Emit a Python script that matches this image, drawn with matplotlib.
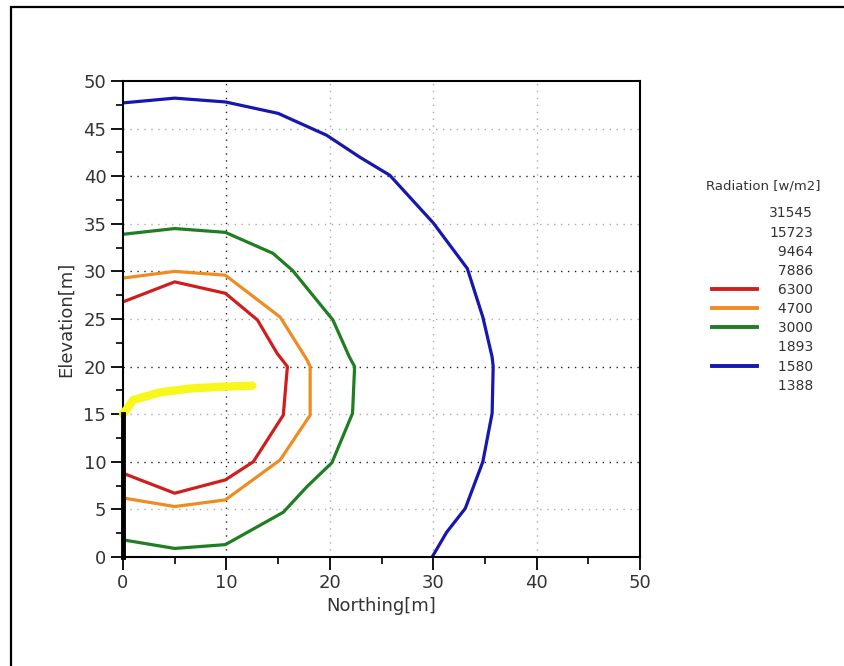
import matplotlib
matplotlib.use('Agg')
import matplotlib.pyplot as plt
from matplotlib.lines import Line2D
from matplotlib.patches import Rectangle

# contour lines (northing, elevation)
red_x = [0, 5, 9.9, 13.0, 14.9, 15.9, 15.5, 12.6, 9.9, 5, 0]
red_y = [26.8, 28.9, 27.7, 24.9, 21.4, 20, 14.9, 10.0, 8.1, 6.7, 8.8]

orange_x = [0, 5, 9.9, 15.2, 17.8, 18.1, 18.1, 15.2, 9.9, 5, 0]
orange_y = [29.3, 30.0, 29.6, 25.2, 20.7, 20, 14.9, 10.2, 6.0, 5.3, 6.2]

green_x = [0, 5, 9.9, 14.5, 16.4, 20.3, 21.9, 22.4, 22.2, 20.2, 17.8, 15.5, 9.9, 5, 0]
green_y = [33.9, 34.5, 34.1, 31.9, 30.1, 24.9, 21.0, 20, 15.1, 9.9, 7.4, 4.7, 1.3, 0.9, 1.8]

blue_x = [0, 5, 9.9, 15, 19.7, 22.9, 25.8, 30, 33.3, 34.8, 35.7, 35.8, 35.7, 34.8, 33.1, 31.3, 29.9]
blue_y = [47.7, 48.2, 47.8, 46.6, 44.3, 42.0, 40.1, 35.1, 30.3, 25.2, 21, 20, 15.1, 10, 5.1, 2.6, 0]

yellow_x = [0, 1, 3.6, 6.5, 9.9, 12.5]
yellow_y = [15, 16.5, 17.3, 17.7, 17.9, 18.0]

wall_x = [0, 0]
wall_y = [0, 15]

levels = ['31545', '15723', '9464', '7886', '6300', '4700', '3000', '1893', '1580', '1388']
level_colors = [None, None, None, None, '#d01e1e', '#ee8c22', '#1f7d22', None, '#1616b0', None]

fig = plt.figure(figsize=(8.45, 6.66), dpi=100)
ax = fig.add_axes([123/845, 1-557/666, (640-123)/845, (557-81)/666])

# grid
for gx in [10, 20, 30, 40]:
    ax.axvline(gx, color='#222222' if gx == 10 else '#aaaaaa', lw=1, ls=(0, (1, 4)), zorder=0)
for gy in range(5, 50, 5):
    ax.axhline(gy, color='#222222' if gy % 10 == 0 else '#aaaaaa', lw=1, ls=(0, (1, 4)), zorder=0)

ax.plot(blue_x, blue_y, color='#1616b0', lw=2.3)
ax.plot(green_x, green_y, color='#1f7d22', lw=2.3)
ax.plot(orange_x, orange_y, color='#ee8c22', lw=2.3)
ax.plot(red_x, red_y, color='#d01e1e', lw=2.3)
ax.plot(yellow_x, yellow_y, color='#f7f71c', lw=6, solid_capstyle='round', clip_on=False, zorder=4)
ax.plot(wall_x, wall_y, color='black', lw=3.5, clip_on=False, zorder=5)

ax.set_xlim(0, 50)
ax.set_ylim(0, 50)
ax.set_xticks(range(0, 51, 10))
ax.set_xticks(range(5, 50, 10), minor=True)
ax.set_yticks(range(0, 51, 5))
ax.set_yticks([v + 2.5 for v in range(0, 50, 5)], minor=True)
ax.tick_params(which='major', length=9, width=1.3, labelsize=13, labelcolor='#333333', pad=3)
ax.tick_params(which='minor', length=5, width=1.2)
for s in ax.spines.values():
    s.set_linewidth(1.5)

ax.set_xlabel('Northing[m]', fontsize=13, color='#333333', labelpad=4)
ax.set_ylabel('Elevation[m]', fontsize=13, color='#333333', labelpad=6)

handles = []
labels = []
for lv, c in zip(levels, level_colors):
    handles.append(Line2D([], [], color=c if c else 'none', lw=2.8))
    labels.append(lv.rjust(5, '\u2007'))
leg = ax.legend(handles, labels, title='Radiation [w/m2]', loc='upper left',
                bbox_to_anchor=(700/845, 1-174/666), bbox_transform=fig.transFigure,
                frameon=False, fontsize=10, title_fontsize=9.5, handlelength=3.2,
                handletextpad=0.9, labelspacing=0.37, borderaxespad=0)
leg._legend_box.sep = 10
for t in leg.get_texts():
    t.set_color('#333333')
leg.get_title().set_color('#333333')

# outer frame
fig.add_artist(Rectangle((11/845, -0.05), 1.0, 1-7/666+0.05, transform=fig.transFigure,
                         fill=False, lw=1.6, ec='black'))

fig.savefig('out.png', dpi=100)
